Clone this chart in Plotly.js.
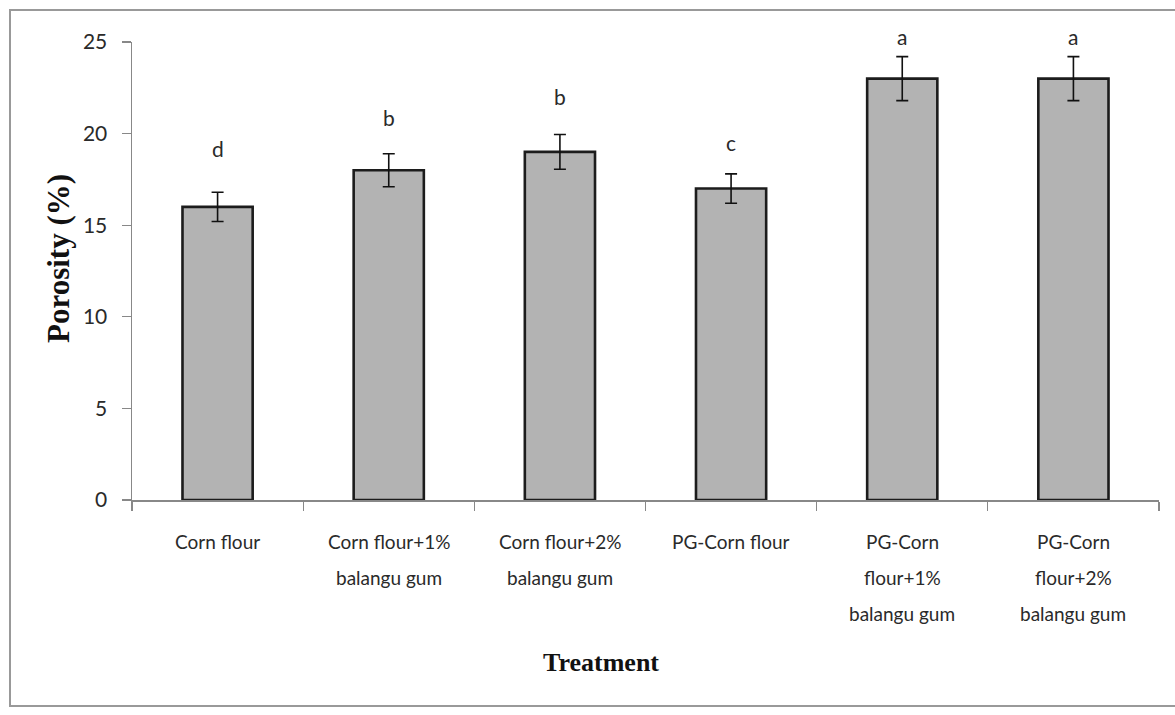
<!DOCTYPE html>
<html>
<head>
<meta charset="utf-8">
<script src="https://cdn.plot.ly/plotly-3.0.1.min.js"></script>
<style>
html,body{margin:0;padding:0;background:#fff;}
#chart{width:1175px;height:715px;}
</style>
</head>
<body>
<div id="chart"></div>
<script>
var categories = ["Corn flour", "Corn flour+1%<br>balangu gum", "Corn flour+2%<br>balangu gum", "PG-Corn flour", "PG-Corn<br>flour+1%<br>balangu gum", "PG-Corn<br>flour+2%<br>balangu gum"];
var porosity = [16, 18, 19, 17, 23, 23];
var errors = [0.8, 0.9, 0.95, 0.8, 1.2, 1.2];
var letters = ["d", "b", "b", "c", "a", "a"];
var letterY = [19.2, 20.9, 22.0, 19.5, 25.3, 25.3];
var yTicks = [0, 5, 10, 15, 20, 25];
var yMax = 25;

var keys = categories.map(function(c, i){ return "c" + i; });
var labelFont = "Lato, 'Open Sans', sans-serif";
var serif = "'Liberation Serif', 'Times New Roman', serif";

var trace = {
  type: "bar",
  x: keys,
  y: porosity,
  width: 0.41,
  marker: {color: "#b3b3b3", line: {color: "#1c1c1c", width: 2.6}},
  error_y: {type: "data", array: errors, visible: true, color: "#111", thickness: 1.6, width: 6},
  hoverinfo: "none"
};

var annotations = [];
letters.forEach(function(l, i){
  annotations.push({x: keys[i], y: letterY[i] / yMax, xref: "x", yref: "paper", text: l, showarrow: false,
    yanchor: "middle", font: {family: labelFont, size: 21, color: "#2a2a2a"}});
});
categories.forEach(function(c, i){
  c.split("<br>").forEach(function(line, j){
    annotations.push({x: keys[i], y: 0, xref: "x", yref: "paper", yanchor: "middle", text: line, showarrow: false,
      yshift: -41 - 36 * j,
      font: {family: labelFont, size: 19, color: "#2a2a2a"}});
  });
});
annotations.push({x: (601 - 132) / 1027, y: (500 - 662) / 458, xref: "paper", yref: "paper", text: "<b>Treatment</b>",
  showarrow: false, yanchor: "middle", xanchor: "center",
  font: {family: serif, size: 26, color: "#111"}});
annotations.push({x: (58 - 132) / 1027, y: (500 - 259) / 458, xref: "paper", yref: "paper", text: "<b>Porosity (%)</b>",
  showarrow: false, yanchor: "middle", xanchor: "center", textangle: -90,
  font: {family: serif, size: 31, color: "#111"}});

var layout = {
  width: 1175, height: 715,
  margin: {l: 132, r: 16, t: 42, b: 215},
  paper_bgcolor: "#fff", plot_bgcolor: "#fff",
  showlegend: false,
  xaxis: {
    type: "category", tickson: "boundaries", ticks: "outside", ticklen: 9, tickcolor: "#888", tickwidth: 1.3,
    showticklabels: false, showline: true, linecolor: "#888", linewidth: 1.5, showgrid: false,
    range: [-0.5, 5.5], zeroline: false
  },
  yaxis: {
    range: [0, yMax], tickvals: yTicks, ticks: "outside", ticklen: 9, tickcolor: "#888", tickwidth: 1.3,
    showline: true, linecolor: "#888", linewidth: 1.5, showgrid: false, zeroline: false,
    ticklabelstandoff: 10,
    tickfont: {family: labelFont, size: 21, color: "#2a2a2a"}
  },
  annotations: annotations,
  shapes: [{
    type: "rect", xref: "paper", yref: "paper",
    x0: (10 - 132) / 1027, x1: (1185 - 132) / 1027,
    y0: (500 - 706) / 458, y1: (500 - 10) / 458,
    line: {color: "#999", width: 2}, fillcolor: "rgba(0,0,0,0)", layer: "below"
  }]
};

Plotly.newPlot("chart", [trace], layout, {displayModeBar: false, staticPlot: true});
</script>
</body>
</html>
